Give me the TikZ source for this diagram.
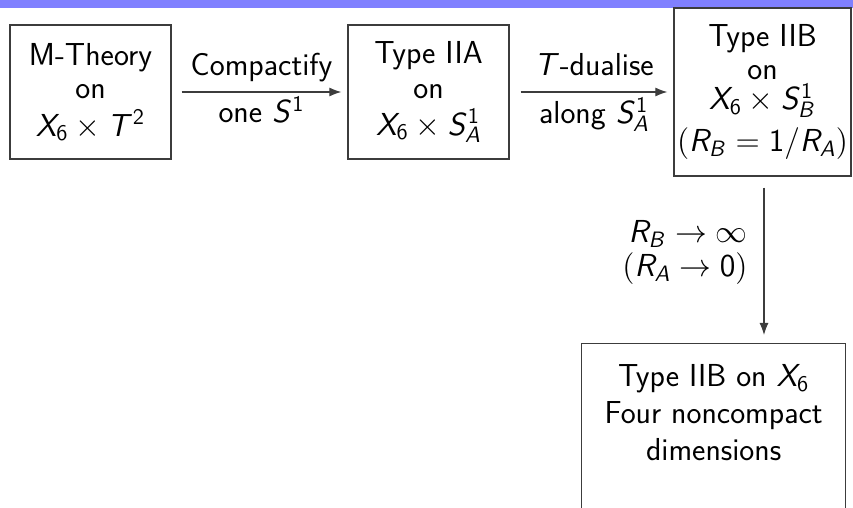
\documentclass[tikz,border=0pt]{standalone}
\usepackage{fix-cm}
\usetikzlibrary{arrows.meta}
\DeclareMathAlphabet{\mathsi}{OT1}{cmss}{m}{sl}
\newcommand{\vv}[1]{\mathsi{#1}}
\newcommand{\dd}[1]{\mathsf{#1}}
\definecolor{barblue}{RGB}{128,128,255}
\definecolor{lineg}{RGB}{60,60,60}
\lineskiplimit=-20pt
\tikzset{
  box/.style={draw=lineg, line width=0.65pt, align=center, inner sep=0pt},
  conn/.style={draw=lineg, line width=0.55pt, -{Latex[length=6pt,width=4.5pt]}},
  lbl/.style={inner sep=0pt, anchor=base}
}
\begin{document}
\begin{tikzpicture}[x=0.5pt,y=-0.5pt,
  font=\sffamily\fontsize{15.9}{16.5}\selectfont]
\useasboundingbox (0,0) rectangle (853,508);
\clip (0,0) rectangle (853,508);
\fill[barblue] (0,0) rectangle (853,8);
\node[box, minimum width=80.5pt, minimum height=67pt] (mt) at (90.5,92)
  {M-Theory\\on\\[2.5pt]$\vv{X}_{\dd{6}}\times \vv{T}^{\dd{2}}$};
\node[box, minimum width=80.5pt, minimum height=67pt] (iia) at (428.5,92)
  {Type IIA\\[1pt]on\\[2pt]$\vv{X}_{\dd{6}}\times \vv{S}^{\dd{1}}_{\vv{A}}$};
\node[box, minimum width=88.5pt, minimum height=84pt] (iib) at (762.5,92)
  {Type IIB\\on\\[-1.5pt]$\vv{X}_{\dd{6}}\times \vv{S}^{\dd{1}}_{\vv{B}}$\\[4.5pt]$(\vv{R}_{\vv{B}}=\dd{1}/\vv{R}_{\vv{A}})$};
\node[box, anchor=north west] (nc) at (581,343)
  {\parbox[t][110pt][t]{132pt}{\centering\vspace*{10.5pt}%
   \baselineskip=18.5pt
   Type IIB on $\vv{X}_{\dd{6}}$\\Four noncompact\\dimensions}};
\draw[conn, shorten <=5pt, shorten >=3pt] (mt) -- (iia);
\draw[conn, shorten <=5.5pt, shorten >=3pt] (iia) -- (iib);
\coordinate (vtop) at ([xshift=0.75pt]iib.south);
\draw[conn, shorten <=5.5pt, shorten >=4pt] (vtop) -- (vtop |- nc.north);
\node[lbl] (c1) at (261.5,76) {Compactify};
\node[lbl] (c2) at (261.5,123) {one $\vv{S}^{\dd{1}}$};
\node[lbl] (t1) at (594,76) {$\vv{T}$-dualise};
\node[lbl] (t2) at (594,124) {along $\vv{S}^{\dd{1}}_{\vv{A}}$};
\node[lbl, anchor=base east] (r1) at (748,243) {$\vv{R}_{\vv{B}}\rightarrow\infty$};
\node[lbl, anchor=base east] (r2) at (748,277) {$(\vv{R}_{\vv{A}}\rightarrow\dd{0})$};
\end{tikzpicture}
\end{document}
